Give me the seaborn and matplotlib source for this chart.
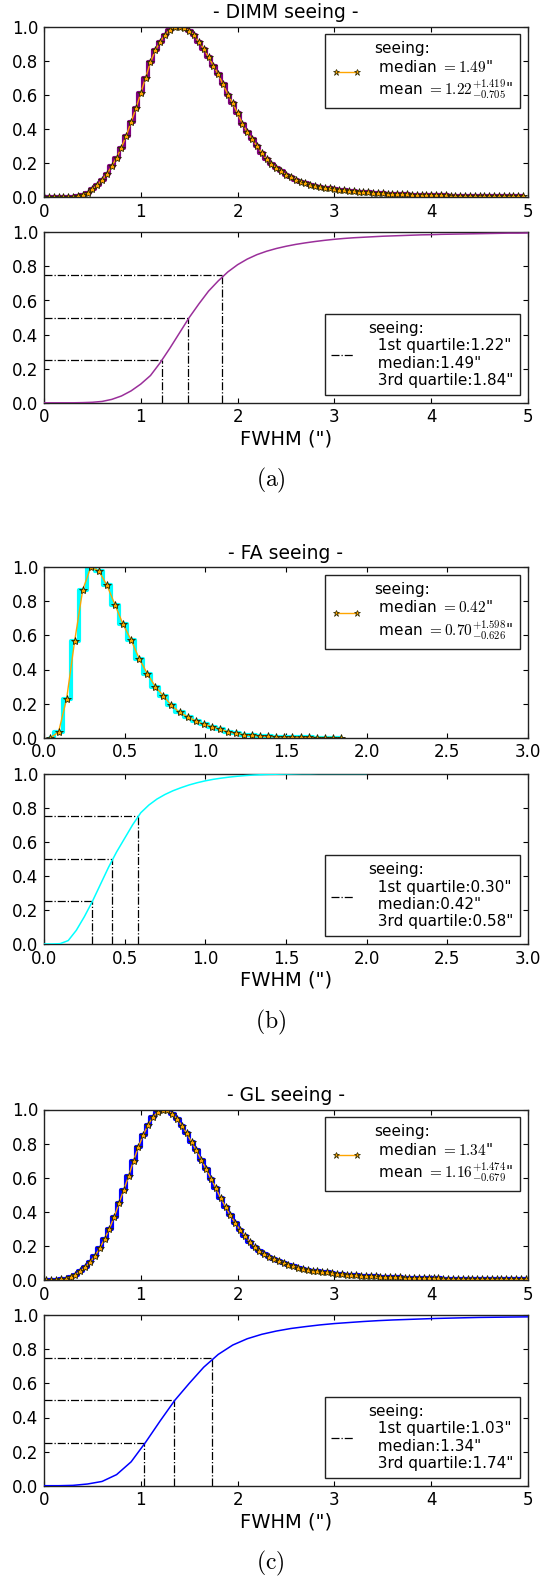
import numpy as np
import matplotlib
matplotlib.use("Agg")
import matplotlib.pyplot as plt
import seaborn as sns
from matplotlib.lines import Line2D

# ---------------- data ----------------
# DIMM normalised histogram (bin step 0.05, starting at 0.00)
dimm_x0, dimm_dx = 0.0, 0.05
dimm_pdf = [
    0, 0, 0, 0, 0, 0.001, 0.002, 0.005, 0.012, 0.025,
    0.045, 0.07, 0.10, 0.135, 0.18, 0.23, 0.29, 0.36, 0.44, 0.52,
    0.61, 0.70, 0.79, 0.86, 0.91, 0.95, 0.98, 0.995, 1.00, 0.99,
    0.975, 0.95, 0.91, 0.87, 0.82, 0.77, 0.72, 0.66, 0.60, 0.55,
    0.49, 0.43, 0.38, 0.34, 0.30, 0.26, 0.22, 0.195, 0.17, 0.15,
    0.13, 0.115, 0.10, 0.09, 0.08, 0.072, 0.065, 0.059, 0.054, 0.050,
    0.046, 0.042, 0.039, 0.036, 0.033, 0.031, 0.029, 0.027, 0.025, 0.023,
    0.021, 0.020, 0.018, 0.017, 0.016, 0.015, 0.014, 0.013, 0.012, 0.011,
    0.010, 0.010, 0.009, 0.009, 0.008, 0.008, 0.007, 0.007, 0.006, 0.006,
    0.006, 0.005, 0.005, 0.005, 0.004, 0.004, 0.004, 0.004, 0.003, 0.003,
]
# DIMM cumulative distribution (step 0.1 from 0.0 to 5.0)
dimm_cdf_dx = 0.1
dimm_cdf = [
    0, 0, 0, 0, 0.001, 0.003, 0.008, 0.02, 0.04, 0.07,
    0.11, 0.16, 0.235, 0.32, 0.41, 0.50, 0.58, 0.655, 0.715, 0.768,
    0.81, 0.843, 0.869, 0.889, 0.905, 0.918, 0.929, 0.938, 0.946, 0.953,
    0.959, 0.964, 0.968, 0.971, 0.974, 0.977, 0.979, 0.981, 0.983, 0.985,
    0.986, 0.988, 0.989, 0.99, 0.991, 0.992, 0.993, 0.994, 0.995, 0.995,
    0.996,
]
dimm_quart = [1.22, 1.49, 1.84]

# FA normalised histogram (bin step 0.05, starting at 0.04)
fa_x0, fa_dx = 0.04, 0.05
fa_pdf = [
    0.0, 0.033, 0.227, 0.567, 0.867, 1.0, 0.978, 0.894, 0.78, 0.665,
    0.573, 0.464, 0.376, 0.30, 0.245, 0.19, 0.149, 0.123, 0.098, 0.078,
    0.065, 0.049, 0.035, 0.025, 0.018, 0.014, 0.01, 0.008, 0.006, 0.004,
    0.003, 0.002, 0.002, 0.001, 0.001, 0.001, 0.0,
]
# FA cumulative distribution (step 0.05 from 0.0 to 2.0)
fa_cdf_dx = 0.05
fa_cdf = [
    0, 0, 0.002, 0.02, 0.08, 0.16, 0.25, 0.35, 0.45, 0.54,
    0.62, 0.70, 0.77, 0.815, 0.85, 0.877, 0.899, 0.917, 0.933, 0.946,
    0.957, 0.966, 0.973, 0.979, 0.984, 0.988, 0.991, 0.993, 0.995, 0.996,
    0.997, 0.998, 0.999, 0.999, 1.0, 1.0, 1.0, 1.0, 1.0, 1.0,
    1.0,
]
fa_quart = [0.30, 0.42, 0.58]

# GL normalised histogram (bin step 0.05, starting at 0.025)
gl_x0, gl_dx = 0.025, 0.05
gl_pdf = [
    0, 0, 0.001, 0.003, 0.008, 0.018, 0.032, 0.05, 0.075, 0.105,
    0.14, 0.185, 0.24, 0.30, 0.37, 0.45, 0.53, 0.61, 0.70, 0.78,
    0.85, 0.91, 0.955, 0.985, 1.00, 0.995, 0.975, 0.945, 0.905, 0.86,
    0.81, 0.76, 0.705, 0.65, 0.595, 0.54, 0.48, 0.43, 0.38, 0.335,
    0.295, 0.26, 0.225, 0.195, 0.17, 0.15, 0.135, 0.122, 0.11, 0.10,
    0.09, 0.081, 0.073, 0.066, 0.060, 0.055, 0.051, 0.047, 0.044, 0.041,
    0.038, 0.035, 0.032, 0.030, 0.028, 0.026, 0.024, 0.022, 0.021, 0.019,
    0.018, 0.017, 0.016, 0.015, 0.014, 0.013, 0.012, 0.011, 0.011, 0.010,
    0.009, 0.009, 0.008, 0.008, 0.007, 0.007, 0.007, 0.006, 0.006, 0.006,
    0.005, 0.005, 0.005, 0.005, 0.005, 0.004, 0.004, 0.004, 0.004, 0.004,
]
# GL cumulative distribution (step 0.15 from 0.0)
gl_cdf_dx = 0.15
gl_cdf = [
    0, 0, 0.002, 0.01, 0.025, 0.065, 0.14, 0.255, 0.38, 0.50,
    0.60, 0.695, 0.77, 0.825, 0.862, 0.888, 0.907, 0.922, 0.933, 0.943,
    0.951, 0.957, 0.963, 0.968, 0.972, 0.975, 0.978, 0.981, 0.983, 0.985,
    0.987, 0.988, 0.989, 0.99, 0.991,
]
gl_quart = [1.03, 1.34, 1.74]

quart_levels = [0.25, 0.5, 0.75]
titles = ["- DIMM seeing -", "- FA seeing -", "- GL seeing -"]
medians = ["1.49", "0.42", "1.34"]
means = ["1.22", "0.70", "1.16"]
mean_plus = ["1.419", "1.598", "1.474"]
mean_minus = ["0.705", "0.626", "0.679"]
captions = ["(a)", "(b)", "(c)"]
step_colors = ["purple", "cyan", "blue"]
cdf_colors = ["#9a2f9a", "cyan", "blue"]
xmax = [5, 3, 5]
xticks = [[0, 1, 2, 3, 4, 5], [0.0, 0.5, 1.0, 1.5, 2.0, 2.5, 3.0], [0, 1, 2, 3, 4, 5]]
yticks = [0.0, 0.2, 0.4, 0.6, 0.8, 1.0]

# ---------------- style ----------------
sns.set_theme(style="white")
plt.rcParams.update({
    "font.family": ["DejaVu Sans"],
    "mathtext.fontset": "cm",
    "xtick.direction": "in", "ytick.direction": "in",
    "xtick.top": True, "ytick.right": True,
    "xtick.bottom": True, "ytick.left": True,
    "xtick.major.size": 3.5, "ytick.major.size": 3.5,
    "xtick.major.width": 0.8, "ytick.major.width": 0.8,
    "xtick.color": "black", "ytick.color": "black",
    "axes.edgecolor": "#222222", "axes.linewidth": 1.0,
    "xtick.labelsize": 12, "ytick.labelsize": 12,
    "xtick.major.pad": 4, "ytick.major.pad": 4,
    "text.color": "black", "axes.labelcolor": "black",
})

W, H = 541, 1578
fig = plt.figure(figsize=(W / 100, H / 100), dpi=100)

left, width, height = 44 / W, 484 / W, 170.5 / H
top_bottoms = [1 - 197 / H, 1 - 737.7 / H, 1 - 1280 / H]
low_bottoms = [1 - 402.8 / H, 1 - 944 / H, 1 - 1485.7 / H]
caption_y = [1 - 480 / H, 1 - 1022.5 / H, 1 - 1563 / H]

pdfs = [(dimm_x0, dimm_dx, dimm_pdf), (fa_x0, fa_dx, fa_pdf), (gl_x0, gl_dx, gl_pdf)]
cdfs = [(dimm_cdf_dx, dimm_cdf), (fa_cdf_dx, fa_cdf), (gl_cdf_dx, gl_cdf)]
quarts = [dimm_quart, fa_quart, gl_quart]

for i in range(3):
    x0, dx, pdf = pdfs[i]
    px = x0 + dx * np.arange(len(pdf))
    ax = fig.add_axes([left, top_bottoms[i], width, height])
    sns.lineplot(x=px, y=pdf, ax=ax, color=step_colors[i], lw=3,
                 drawstyle="steps-mid", estimator=None, sort=False, legend=False)
    sns.lineplot(x=px, y=pdf, ax=ax, color="orange", lw=1, marker="*",
                 markersize=6, markerfacecolor="orange", markeredgecolor="#222200",
                 markeredgewidth=0.6, estimator=None, sort=False, legend=False)
    ax.set_xlim(0, xmax[i])
    ax.set_ylim(0, 1)
    ax.set_xticks(xticks[i])
    ax.set_yticks(yticks)
    ax.set_xlabel("")
    ax.set_title(titles[i], fontsize=13.5, pad=6)
    h = Line2D([], [], color="orange", lw=1, marker="*", markersize=5,
               markerfacecolor="orange", markeredgecolor="#222200", markeredgewidth=0.5)
    lab = ("seeing:\n median $= %s$\"\n mean $= %s^{+%s}_{-%s}$\""
           % (medians[i], means[i], mean_plus[i], mean_minus[i]))
    leg = ax.legend([h], [lab], loc="upper right", fontsize=11, numpoints=2,
                    handlelength=2.0, fancybox=False, framealpha=1,
                    edgecolor="#222222", borderpad=0.45, handletextpad=0.8)
    leg.get_frame().set_linewidth(1.0)

    cdx, cdf = cdfs[i]
    cx = cdx * np.arange(len(cdf))
    ax2 = fig.add_axes([left, low_bottoms[i], width, height])
    sns.lineplot(x=cx, y=cdf, ax=ax2, color=cdf_colors[i], lw=1.1,
                 estimator=None, sort=False, legend=False, zorder=3)
    q = quarts[i]
    for qv, lv in zip(q, quart_levels):
        ax2.plot([0, qv], [lv, lv], color="black", lw=0.9, ls="-.")
        ax2.plot([qv, qv], [0, lv], color="black", lw=0.9, ls="-.")
    ax2.set_xlim(0, xmax[i])
    ax2.set_ylim(0, 1)
    ax2.set_xticks(xticks[i])
    ax2.set_yticks(yticks)
    ax2.set_xlabel('FWHM (")', fontsize=14, labelpad=2)
    hq = Line2D([], [], color="black", lw=0.9, ls="-.")
    labq = ("seeing:\n  1st quartile:%.2f\"\n  median:%.2f\"\n  3rd quartile:%.2f\""
            % (q[0], q[1], q[2]))
    leg2 = ax2.legend([hq], [labq], loc="lower right", fontsize=11,
                      handlelength=1.5, fancybox=False, framealpha=1,
                      edgecolor="#222222", borderpad=0.45, handletextpad=0.9)
    leg2.get_frame().set_linewidth(1.0)

    fig.text(0.5, caption_y[i], r"$\mathrm{%s}$" % captions[i], ha="center",
             va="center", fontsize=17)

fig.savefig("out.png", dpi=100)
